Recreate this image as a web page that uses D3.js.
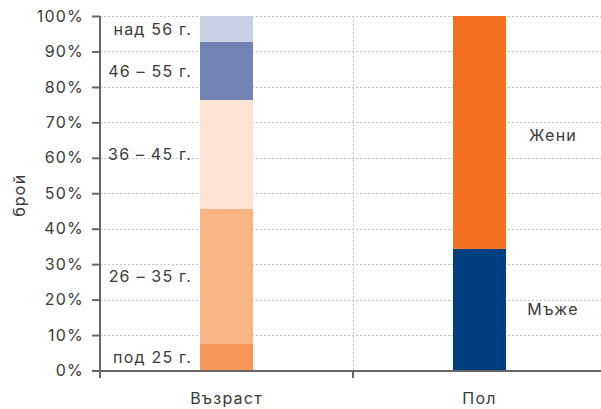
<!DOCTYPE html>
<html lang="bg">
<head>
<meta charset="utf-8">
<script src="https://cdn.jsdelivr.net/npm/d3@7"></script>
<style>
  html, body { margin: 0; padding: 0; background: #fff; }
  svg text { font-family: "Inter", "Noto Sans", sans-serif; fill: #3a3a3a; letter-spacing: 1.2px; }
</style>
</head>
<body>
<svg id="chart" width="601" height="409" lang="bg"></svg>
<script>
const categories = ["Възраст", "Пол"];
const ageGroups = ["под 25 г.", "26 – 35 г.", "36 – 45 г.", "46 – 55 г.", "над 56 г."];
const ageValues = [7.5, 38.1, 30.7, 16.4, 7.3];
const ageColors = ["#F7985A", "#F8B484", "#FDE3D3", "#7083B3", "#C9CFE4"];
const genderGroups = ["Мъже", "Жени"];
const genderValues = [34.3, 65.7];
const genderColors = ["#003F7F", "#F37021"];
const yTicks = [0, 10, 20, 30, 40, 50, 60, 70, 80, 90, 100];
const yTitle = "брой";

(function () {
const svg = d3.select("#chart");
const mLeft = 100, mRight = 606, mTop = 16, mBottom = 370.5;
const barW = 53;
const fs = 16;

const x = d3.scalePoint().domain(categories).range([mLeft, mRight]).padding(0.5);
const xBand = d3.scaleBand().domain(categories).range([mLeft, mRight]);
const y = d3.scaleLinear().domain([0, 100]).range([mBottom, mTop]);

svg.append("g").selectAll("line").data(yTicks.filter(d => d > 0)).join("line")
  .attr("x1", mLeft).attr("x2", 601)
  .attr("y1", d => Math.round(y(d)) + 0.5).attr("y2", d => Math.round(y(d)) + 0.5)
  .attr("stroke", "#c4c4c4").attr("stroke-width", 1).attr("stroke-dasharray", "2,2");

const bounds = categories.slice(1).map(c => xBand(c));
svg.append("g").selectAll("line").data(bounds).join("line")
  .attr("x1", d => Math.round(d) + 0.5).attr("x2", d => Math.round(d) + 0.5)
  .attr("y1", mTop).attr("y2", mBottom)
  .attr("stroke", "#c4c4c4").attr("stroke-width", 1).attr("stroke-dasharray", "2,2");

function stack(vals) {
  let acc = 0;
  return vals.map(v => { const s = { y0: acc, y1: acc + v }; acc += v; return s; });
}

const ageStack = stack(ageValues);
const genderStack = stack(genderValues);

const cx0 = x(categories[0]), cx1 = x(categories[1]);

svg.append("g").selectAll("rect").data(ageStack).join("rect")
  .attr("x", cx0 - barW / 2).attr("width", barW)
  .attr("y", d => y(d.y1)).attr("height", d => y(d.y0) - y(d.y1))
  .attr("fill", (d, i) => ageColors[i]);

svg.append("g").selectAll("rect").data(genderStack).join("rect")
  .attr("x", cx1 - barW / 2).attr("width", barW)
  .attr("y", d => y(d.y1)).attr("height", d => y(d.y0) - y(d.y1))
  .attr("fill", (d, i) => genderColors[i]);

svg.append("g").selectAll("text").data(ageStack).join("text")
  .attr("x", cx0 - barW / 2 - 8)
  .attr("y", d => y((d.y0 + d.y1) / 2))
  .attr("dy", "0.35em")
  .attr("text-anchor", "end")
  .attr("font-size", fs)
  .text((d, i) => ageGroups[i]);

svg.append("g").selectAll("text").data(genderStack).join("text")
  .attr("x", cx1 + barW / 2 + 47)
  .attr("y", (d, i) => y((d.y0 + d.y1) / 2) + (i === 1 ? 3 : 0))
  .attr("dy", "0.35em")
  .attr("text-anchor", "middle")
  .attr("font-size", fs)
  .text((d, i) => genderGroups[i]);

const yAxis = d3.axisLeft(y).tickValues(yTicks).tickFormat(d => d + "%").tickSize(8).tickPadding(8);
const gy = svg.append("g").attr("transform", `translate(${mLeft},0)`).call(yAxis);
gy.select(".domain").attr("stroke", "#666").attr("stroke-width", 2).attr("d", `M0,${mTop}V378`);
gy.selectAll(".tick line").attr("stroke", "#666").attr("stroke-width", 2);
gy.selectAll(".tick text").attr("font-size", fs).attr("font-family", null).attr("fill", "#3a3a3a");

svg.append("line").attr("x1", mLeft).attr("x2", 601).attr("y1", mBottom + 0.5).attr("y2", mBottom + 0.5)
  .attr("stroke", "#666").attr("stroke-width", 2);
svg.append("g").selectAll("line").data(bounds).join("line")
  .attr("x1", d => Math.round(d)).attr("x2", d => Math.round(d))
  .attr("y1", mBottom).attr("y2", 378)
  .attr("stroke", "#666").attr("stroke-width", 2);

svg.append("g").selectAll("text").data(categories).join("text")
  .attr("x", d => x(d)).attr("y", 404)
  .attr("text-anchor", "middle").attr("font-size", fs)
  .text(d => d);

svg.append("text")
  .attr("transform", `translate(25,${(mTop + mBottom) / 2 + 2}) rotate(-90)`)
  .attr("text-anchor", "middle").attr("font-size", fs)
  .text(yTitle);
})();
</script>
</body>
</html>
